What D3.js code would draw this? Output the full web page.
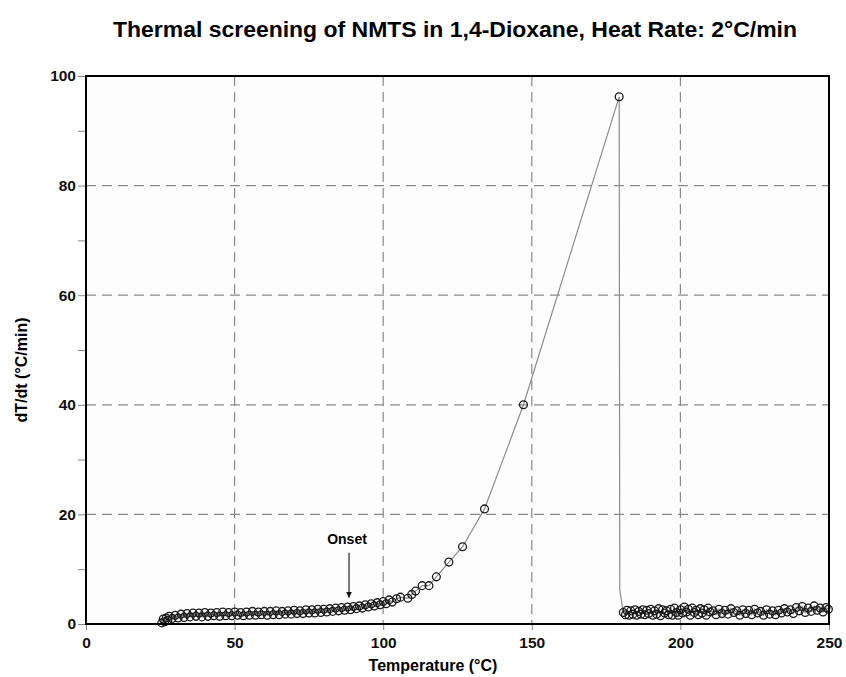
<!DOCTYPE html>
<html>
<head>
<meta charset="utf-8">
<script src="https://cdn.jsdelivr.net/npm/d3@7"></script>
<style>
  body { margin: 0; background: #fff; }
  svg { font-family: "Liberation Sans", Arial, sans-serif; }
</style>
</head>
<body>
<svg id="chart" width="846" height="677"></svg>
<script>
// Chart data
const xTicks = [0, 50, 100, 150, 200, 250];
const yTicks = [0, 20, 40, 60, 80, 100];
const yMinorTicks = [10, 30, 50, 70, 90];

// slow self-heating region (two interleaved rows of readings)
const warmupTemp = [25.5, 26, 26.5, 27, 27.5, 28, 29, 30, 31, 32, 33, 34, 35, 36, 37, 38, 39, 40,
  41, 42, 43, 44, 45, 46, 47, 48, 49, 50, 51, 52, 53, 54, 55, 56, 57, 58, 59, 60,
  61, 62, 63, 64, 65, 66, 67, 68, 69, 70, 71, 72, 73, 74, 75, 76, 77, 78, 79, 80,
  81, 82, 83, 84, 85, 86, 87, 88, 89, 90, 91, 92, 93, 94, 95, 96, 97, 98, 99, 100, 101, 102, 103];
const warmupRate = [0.2, 0.9, 0.4, 1.1, 0.7, 1.4, 1.0, 1.6, 1.1, 1.8, 1.2, 1.9, 1.3, 2.0, 1.4, 2.0, 1.3, 2.1,
  1.4, 2.0, 1.5, 2.1, 1.4, 2.2, 1.5, 2.1, 1.5, 2.2, 1.6, 2.1, 1.5, 2.2, 1.6, 2.3, 1.6, 2.2, 1.7, 2.3,
  1.6, 2.3, 1.7, 2.4, 1.7, 2.3, 1.8, 2.4, 1.8, 2.5, 1.9, 2.4, 1.9, 2.6, 2.0, 2.6, 2.0, 2.7, 2.1, 2.7,
  2.2, 2.8, 2.3, 2.9, 2.4, 3.0, 2.5, 3.1, 2.6, 3.2, 2.8, 3.3, 2.9, 3.5, 3.1, 3.7, 3.3, 3.9, 3.5, 4.1, 3.7, 4.4, 4.0];

// runaway region
const runawayTemp = [104.5, 105.8, 108.3, 109.6, 110.9, 113.1, 115.4, 117.9, 122.1, 126.7, 134.1, 147.2, 179.4];
const runawayRate = [4.6, 4.9, 4.7, 5.4, 6.0, 7.0, 7.0, 8.6, 11.3, 14.1, 21.0, 40.0, 96.2];

// end of the drop after the peak (line only, no marker)
const dropTemp = [179.6];
const dropRate = [6.2];

// after the event
const afterTemp = [180.8, 181.5, 182, 182.7, 183.3, 184, 184.7, 185.3, 186, 186.7, 187.3, 188, 188.7, 189.3,
  190, 190.7, 191.3, 192, 192.7, 193.3, 194, 194.7, 195.3, 196, 196.7, 197.3, 198, 198.7, 199.3,
  200, 200.7, 201.3, 202, 202.7, 203.3, 204, 204.7, 205.3, 206, 206.7, 207.3, 208, 208.7, 209.3,
  210, 211, 212, 213, 214, 215, 216, 217, 218, 219, 220, 221, 222, 223, 224, 225, 226, 227, 228, 229,
  230, 231, 232, 233, 234, 235, 236, 237, 238, 239, 240, 241, 242, 243, 244, 245, 246, 247, 248, 249, 249.8];
const afterRate = [2.1, 1.7, 2.5, 1.6, 2.4, 1.8, 2.6, 1.6, 2.3, 1.8, 2.6, 1.7, 2.5, 1.9,
  2.7, 1.6, 2.4, 1.8, 2.8, 1.5, 2.6, 2.0, 2.4, 1.7, 2.7, 1.6, 2.9, 2.1, 1.6,
  2.6, 2.0, 3.1, 2.2, 2.7, 1.6, 2.9, 2.1, 2.5, 1.7, 2.8, 2.0, 2.6, 1.6, 2.9,
  2.2, 2.4, 1.7, 2.7, 1.9, 2.5, 1.8, 2.8, 2.1, 2.4, 1.6, 2.6, 1.9, 2.5, 1.7, 2.7, 2.0, 2.3, 1.6, 2.6,
  1.8, 2.4, 1.7, 2.5, 2.0, 2.8, 2.2, 2.6, 1.9, 3.0, 2.4, 3.2, 2.1, 2.9, 2.3, 3.3, 2.5, 2.9, 2.2, 3.0, 2.7];

const onsetTemp = 88.5;
const onsetTop = 13.0;
const onsetTip = 4.8;

// Layout
const svg = d3.select('#chart');
const plot = { left: 86, right: 829, top: 76, bottom: 624 };

const x = d3.scaleLinear().domain([0, 250]).range([plot.left, plot.right]);
const y = d3.scaleLinear().domain([0, 100]).range([plot.bottom, plot.top]);

const zip = (ts, rs) => ts.map((t, i) => ({ t: t, r: rs[i] }));
const warmup = zip(warmupTemp, warmupRate);
const runaway = zip(runawayTemp, runawayRate);
const drop = zip(dropTemp, dropRate);
const after = zip(afterTemp, afterRate);
const linePoints = warmup.concat(runaway, drop, after);
const markers = warmup.concat(runaway, after);

// plot background
svg.append('rect')
  .attr('x', plot.left).attr('y', plot.top)
  .attr('width', plot.right - plot.left).attr('height', plot.bottom - plot.top)
  .attr('fill', '#fdfdfd');

// Title
svg.append('text')
  .attr('x', 455).attr('y', 37)
  .attr('text-anchor', 'middle')
  .attr('font-size', 22).attr('font-weight', 'bold')
  .attr('textLength', 684).attr('lengthAdjust', 'spacingAndGlyphs')
  .text('Thermal screening of NMTS in 1,4-Dioxane, Heat Rate: 2°C/min');

// dashed grid
const grid = svg.append('g').attr('stroke', '#8a8a8a').attr('stroke-width', 1.2)
  .attr('stroke-dasharray', '10,6');
grid.selectAll('.vg').data(xTicks.slice(1, -1)).enter().append('line')
  .attr('x1', d => x(d)).attr('x2', d => x(d))
  .attr('y1', plot.top).attr('y2', plot.bottom);
grid.selectAll('.hg').data(yTicks.slice(1, -1)).enter().append('line')
  .attr('x1', plot.left).attr('x2', plot.right)
  .attr('y1', d => y(d)).attr('y2', d => y(d));

// Axes
const xAxis = svg.append('g')
  .attr('transform', `translate(0,${plot.bottom})`)
  .call(d3.axisBottom(x).tickValues(xTicks).tickSize(6).tickPadding(7));
const yAxis = svg.append('g')
  .attr('transform', `translate(${plot.left},0)`)
  .call(d3.axisLeft(y).tickValues(yTicks).tickSize(8).tickPadding(2));
svg.append('g')
  .attr('transform', `translate(${plot.left},0)`)
  .call(d3.axisLeft(y).tickValues(yMinorTicks).tickSize(8).tickFormat(''))
  .call(g => g.select('.domain').remove());

svg.selectAll('.tick line').attr('stroke', '#888');
[xAxis, yAxis].forEach(g => {
  g.select('.domain').remove();
  g.selectAll('text')
    .attr('font-family', '"Liberation Sans", Arial, sans-serif')
    .attr('font-size', 15.5).attr('font-weight', 'bold').attr('fill', '#111');
});

// Axis titles
svg.append('text')
  .attr('x', 433).attr('y', 671)
  .attr('text-anchor', 'middle')
  .attr('font-size', 16).attr('font-weight', 'bold')
  .text('Temperature (°C)');
svg.append('text')
  .attr('transform', 'translate(27,370) rotate(-90)')
  .attr('text-anchor', 'middle')
  .attr('font-size', 16).attr('font-weight', 'bold')
  .text('dT/dt (°C/min)');

// Series line
svg.append('path')
  .datum(linePoints)
  .attr('fill', 'none')
  .attr('stroke', '#8c8c8c')
  .attr('stroke-width', 1.2)
  .attr('d', d3.line().x(d => x(d.t)).y(d => y(d.r)));

// Markers
svg.append('g').selectAll('circle')
  .data(markers).enter().append('circle')
  .attr('cx', d => x(d.t)).attr('cy', d => y(d.r))
  .attr('r', 3.9)
  .attr('fill', 'none')
  .attr('stroke', '#1a1a1a')
  .attr('stroke-width', 1.3);

// Onset annotation
svg.append('defs').append('marker')
  .attr('id', 'arrowhead')
  .attr('viewBox', '0 0 10 10')
  .attr('refX', 10).attr('refY', 5)
  .attr('markerWidth', 5).attr('markerHeight', 5)
  .attr('orient', 'auto')
  .append('path').attr('d', 'M0,0 L10,5 L0,10 Z').attr('fill', '#111');
svg.append('line')
  .attr('x1', x(onsetTemp)).attr('x2', x(onsetTemp))
  .attr('y1', y(onsetTop)).attr('y2', y(onsetTip))
  .attr('stroke', '#222').attr('stroke-width', 1.2)
  .attr('marker-end', 'url(#arrowhead)');
svg.append('text')
  .attr('x', x(onsetTemp) - 2).attr('y', y(onsetTop) - 9)
  .attr('text-anchor', 'middle')
  .attr('font-size', 14).attr('font-weight', 'bold')
  .text('Onset');

// Frame
svg.append('rect')
  .attr('x', plot.left).attr('y', plot.top)
  .attr('width', plot.right - plot.left).attr('height', plot.bottom - plot.top)
  .attr('fill', 'none')
  .attr('stroke', '#000')
  .attr('stroke-width', 2);
</script>
</body>
</html>
